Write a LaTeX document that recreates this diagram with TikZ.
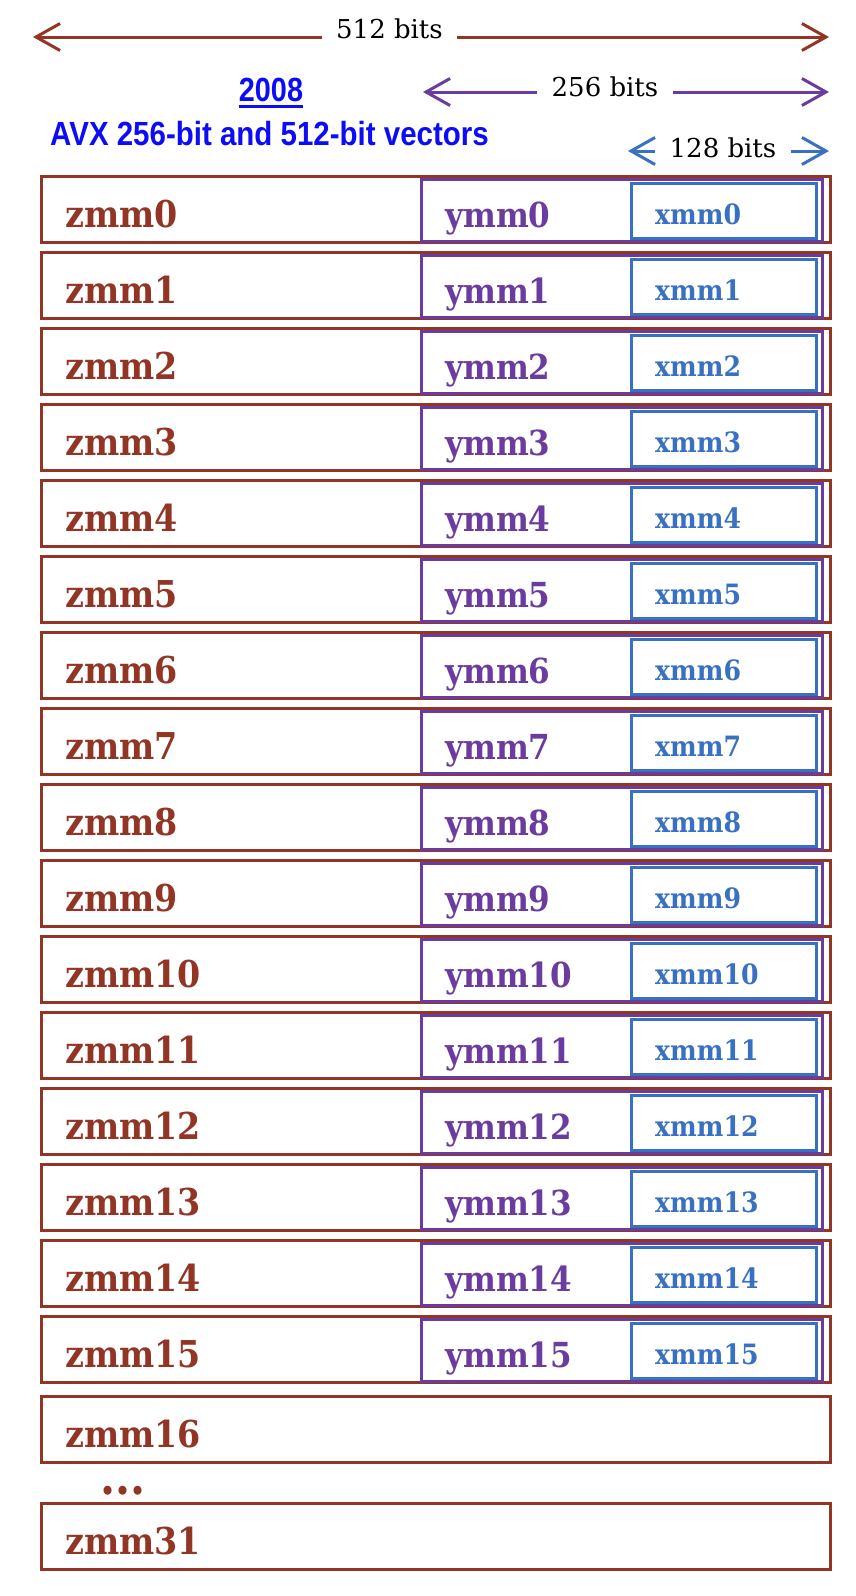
\documentclass[tikz,border=0pt]{standalone}
\usepackage{fontspec}
\usetikzlibrary{arrows.meta}
\newfontfamily\slabfont{DejaVu Serif Condensed}
\newfontfamily\cotefont{DejaVu Serif}
\newfontfamily\titrefont{Liberation Sans}
\definecolor{rouge}{RGB}{146,53,36}
\definecolor{mauve}{RGB}{107,60,160}
\definecolor{bleu}{RGB}{56,113,194}
\definecolor{bleutitre}{RGB}{12,12,245}
\newcommand\souligne[1]{\setbox0\hbox{#1}\rlap{\rule[-6.5pt]{\wd0}{2.5pt}}\box0}

\begin{document}
\begin{tikzpicture}[x=1pt,y=-1pt]
	\tikzset{regz/.style={draw=rouge, line width=3pt, minimum width=789pt, minimum height=66pt, inner sep=0pt},
	regy/.style={draw=mauve, line width=3pt, minimum width=401pt, minimum height=62pt, inner sep=0pt},
	regx/.style={draw=bleu, line width=3pt, minimum width=185pt, minimum height=55pt, inner sep=0pt},
	nomz/.style={anchor=base west, inner sep=0pt, text=rouge, font=\slabfont\bfseries\fontsize{37}{37}\selectfont},
	nomy/.style={anchor=base west, inner sep=0pt, text=mauve, font=\slabfont\bfseries\fontsize{34.5}{34.5}\selectfont},
	nomx/.style={anchor=base west, inner sep=0pt, text=bleu, font=\slabfont\bfseries\fontsize{28}{28}\selectfont},
	cote/.style={anchor=base, inner xsep=14pt, inner ysep=0pt, font=\cotefont\fontsize{26}{26}\selectfont},
	titre/.style={anchor=base, inner sep=0pt, text=bleutitre, font=\titrefont\bfseries\fontsize{33.5}{34}\selectfont},
	fleche/.style={line width=3pt, -{Straight Barb[length=24pt,width=27pt]}}};

	\useasboundingbox (0,0) rectangle (856,1596);

	% largeurs
	\foreach \n/\xg/\xc/\yb/\yl/\coul in {512/33/389.5/38/37/rouge, 256/423/605/96/92/mauve, 128/628/723/157/151/bleu}{
		\node[cote] (c\n) at (\xc, \yb) {\n{} bits};
		\coordinate (g\n) at (\xg, \yl);
		\coordinate (d\n) at (829, \yl);
		\draw[fleche, \coul] (c\n.west |- g\n) -- (g\n);
		\draw[fleche, \coul] (c\n.east |- d\n) -- (d\n);
	}

	\node[titre] (annee) at (271, 101) {\scalebox{0.86}[1]{\souligne{2008}}};
	\node[titre] (avx) at (269.5, 145) {\scalebox{0.88}[1]{AVX 256-bit and 512-bit vectors}};

	% registres 0 a 15
	\foreach \i in {0,...,15}{
		\node[regz] (z\i) at (435.5, 209+76*\i) {};
		\node[regy] (y\i) at (622, 210.5+76*\i) {};
		\node[regx] (x\i) at (724, 211+76*\i) {};
		\node[nomz] (nz\i) at (65, 227+76*\i) {zmm\i};
		\node[nomy] (ny\i) at (445, 227+76*\i) {ymm\i};
		\node[nomx] (nx\i) at (655, 224+76*\i) {xmm\i};
	}

	\foreach \i/\y in {16/1429.5, 31/1536.5}{
		\node[regz] (z\i) at (435.5, \y) {};
		\node[nomz] (nz\i) at (65, \y+18) {zmm\i};
	}

	\node[nomz, anchor=base, font=\slabfont\bfseries\fontsize{48}{48}\selectfont] (points) at (123, 1494) {...};

\end{tikzpicture}
\end{document}
